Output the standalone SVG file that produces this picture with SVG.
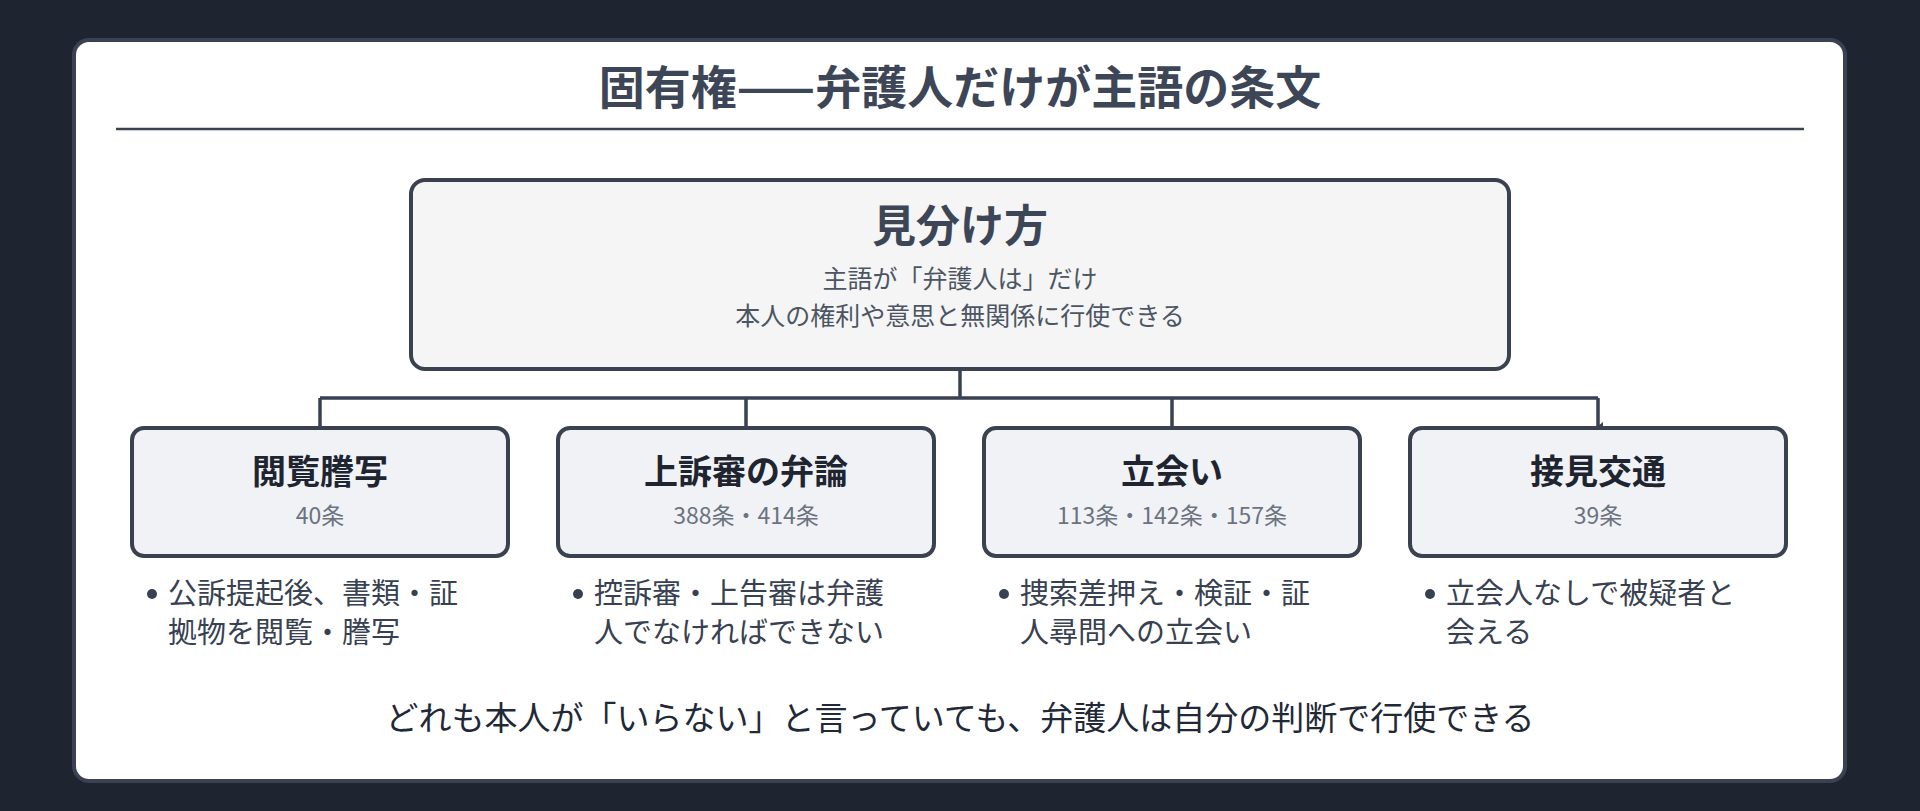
<svg xmlns="http://www.w3.org/2000/svg" width="1920" height="811" viewBox="0 0 1920 811">
<style>
text{font-family:"Noto Sans CJK JP","Noto Sans",sans-serif;text-anchor:middle}
.t{font-size:46px;font-weight:700;fill:#3d4657}
.mt{font-size:44px;font-weight:700;fill:#3d4657}
.ms{font-size:25px;fill:#4b5563}
.box{fill:#f0f2f5;stroke:#3a4150;stroke-width:4}
.ct{font-size:34px;font-weight:700;fill:#1e2530}
.cs{font-size:23px;fill:#6b7280}
.b{font-size:29px;fill:#374151;text-anchor:start}
.f{font-size:33px;fill:#1f2937}
.c{fill:none;stroke:#3a4150;stroke-width:3.5}
</style>
<defs><marker id="a" markerWidth="8" markerHeight="6" refX="4" refY="5" orient="auto" markerUnits="userSpaceOnUse"><path d="M0,0 L8,0 L4,5z" fill="#3a4150"/></marker></defs>
<rect width="1920" height="811" fill="#1e2530"/>
<rect x="74" y="40" width="1771" height="741" rx="15" fill="#fff" stroke="#3a4150" stroke-width="4"/>
<text class="t" x="960" y="104">固有権——弁護人だけが主語の条文</text>
<line x1="116" y1="129" x2="1804" y2="129" stroke="#3a4150" stroke-width="2.5"/>
<g id="main">
<rect x="411" y="180" width="1098" height="189" rx="14" fill="#f5f5f5" stroke="#3a4150" stroke-width="4"/>
<text class="mt" x="960" y="242">見分け方</text>
<text class="ms" x="960" y="288">主語が「弁護人は」だけ</text>
<text class="ms" x="960" y="325">本人の権利や意思と無関係に行使できる</text>
</g>
<g id="connectors">
<path class="c" d="M960,369 V398 M320,398 H1598 M320,398 V426 M746,398 V426 M1172,398 V426 M1598,398 V426" marker-end="url(#a)"/>
</g>
<g id="n1"><rect class="box" x="132" y="428" width="376" height="128" rx="12"/>
<text class="ct" x="320" y="484">閲覧謄写</text><text class="cs" x="320" y="524">40条</text>
<circle cx="152" cy="594" r="5" fill="#374151"/>
<text class="b" x="168" y="604">公訴提起後、書類・証</text><text class="b" x="168" y="643">拠物を閲覧・謄写</text></g>
<g id="n2"><rect class="box" x="558" y="428" width="376" height="128" rx="12"/>
<text class="ct" x="746" y="484">上訴審の弁論</text><text class="cs" x="746" y="524">388条・414条</text>
<circle cx="578" cy="594" r="5" fill="#374151"/>
<text class="b" x="594" y="604">控訴審・上告審は弁護</text><text class="b" x="594" y="643">人でなければできない</text></g>
<g id="n3"><rect class="box" x="984" y="428" width="376" height="128" rx="12"/>
<text class="ct" x="1172" y="484">立会い</text><text class="cs" x="1172" y="524">113条・142条・157条</text>
<circle cx="1004" cy="594" r="5" fill="#374151"/>
<text class="b" x="1020" y="604">捜索差押え・検証・証</text><text class="b" x="1020" y="643">人尋問への立会い</text></g>
<g id="n4"><rect class="box" x="1410" y="428" width="376" height="128" rx="12"/>
<text class="ct" x="1598" y="484">接見交通</text><text class="cs" x="1598" y="524">39条</text>
<circle cx="1430" cy="594" r="5" fill="#374151"/>
<text class="b" x="1446" y="604">立会人なしで被疑者と</text><text class="b" x="1446" y="643">会える</text></g>
<text class="f" x="960" y="730">どれも本人が「いらない」と言っていても、弁護人は自分の判断で行使できる</text>
</svg>
